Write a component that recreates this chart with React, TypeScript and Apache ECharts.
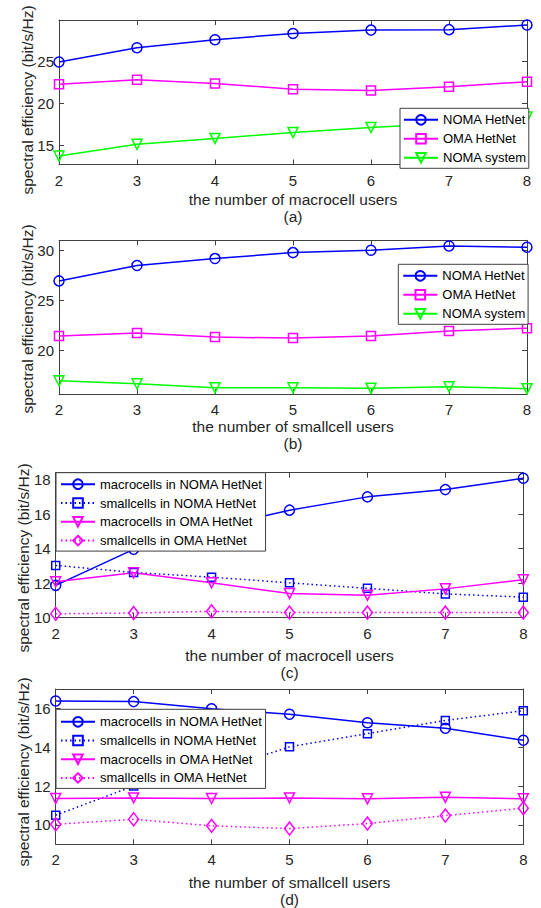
import React, { useEffect, useRef } from "react";
import * as echarts from "echarts";

// ---------- data ----------
const xUsers = [2, 3, 4, 5, 6, 7, 8];

// (a) vs number of macrocell users
const aNomaHetNet = [24.9, 26.6, 27.55, 28.3, 28.7, 28.75, 29.3];
const aOmaHetNet = [22.26, 22.8, 22.35, 21.67, 21.5, 21.95, 22.55];
const aNomaSystem = [13.7, 15.1, 15.8, 16.5, 17.1, 17.6, 18.35];

// (b) vs number of smallcell users
const bNomaHetNet = [26.93, 28.47, 29.17, 29.77, 30.0, 30.43, 30.3];
const bOmaHetNet = [21.4, 21.7, 21.3, 21.2, 21.4, 21.9, 22.2];
const bNomaSystem = [16.93, 16.63, 16.23, 16.23, 16.17, 16.33, 16.13];

// (c) vs number of macrocell users
const cMacroNoma = [11.87, 13.96, 15.2, 16.23, 17.0, 17.42, 18.08];
const cSmallNoma = [13.03, 12.62, 12.35, 12.02, 11.7, 11.38, 11.19];
const cMacroOma = [12.08, 12.6, 12.02, 11.4, 11.3, 11.67, 12.2];
const cSmallOma = [10.23, 10.27, 10.37, 10.3, 10.3, 10.3, 10.3];

// (d) vs number of smallcell users
const dMacroNoma = [16.38, 16.35, 15.98, 15.7, 15.26, 14.98, 14.36];
const dSmallNoma = [10.5, 12.0, 12.7, 14.02, 14.7, 15.38, 15.88];
const dMacroOma = [11.36, 11.39, 11.36, 11.39, 11.34, 11.42, 11.35];
const dSmallOma = [10.03, 10.29, 9.95, 9.81, 10.07, 10.48, 10.86];

// tick labels
const xTicks = [2, 3, 4, 5, 6, 7, 8];
const aYTicks = [15, 20, 25];
const bYTicks = [20, 25, 30];
const cYTicks = [10, 12, 14, 16, 18];
const dYTicks = [10, 12, 14, 16];

const namesAB = ["NOMA HetNet", "OMA HetNet", "NOMA system"];
const namesCD = [
  "macrocells in NOMA HetNet",
  "smallcells in NOMA HetNet",
  "macrocells in OMA HetNet",
  "smallcells in OMA HetNet",
];
const yTitle = "spectral efficiency (bit/s/Hz)";
const xTitleMacro = "the number of macrocell users";
const xTitleSmall = "the number of smallcell users";
const captions = ["(a)", "(b)", "(c)", "(d)"];

// ---------- styling ----------
const FONT = "'Liberation Sans', Arial, Helvetica, sans-serif";
const AX = "#404040";
const TXT = "#262626";
const BLUE = "#0000ff";
const MAG = "#ff00ff";
const GREEN = "#00ff00";

type SDef = {
  name: string;
  data: number[];
  color: string;
  symbol: string;
  size: number | number[];
  rotate?: number;
  dotted?: boolean;
};

type Panel = {
  grid: { left: number; right: number; top: number; height: number };
  yMin: number;
  yMax: number;
  yTicks: number[];
  legend: { left: number; top: number; padding: number[]; itemGap: number };
  legendNames: string[];
  series: SDef[];
  yTitle: { x: number; y: number };
  xTitle: { text: string; y: number };
  caption: { y: number };
};

const panels: Panel[] = [
  {
    grid: { left: 59, right: 14, top: 20, height: 144.5 },
    yMin: 12.7,
    yMax: 29.9,
    yTicks: aYTicks,
    legend: { left: 400, top: 108.3, padding: [5, 2, 4, 3], itemGap: 6 },
    legendNames: namesAB,
    series: [
      { name: namesAB[0], data: aNomaHetNet, color: BLUE, symbol: "circle", size: 10 },
      { name: namesAB[1], data: aOmaHetNet, color: MAG, symbol: "rect", size: 9 },
      { name: namesAB[2], data: aNomaSystem, color: GREEN, symbol: "triangle", size: 10, rotate: 180 },
    ],
    yTitle: { x: 27.5, y: 100 },
    xTitle: { text: xTitleMacro, y: 199 },
    caption: { y: 216.5 },
  },
  {
    grid: { left: 59, right: 14, top: 240.3, height: 153.7 },
    yMin: 15.6,
    yMax: 31,
    yTicks: bYTicks,
    legend: { left: 398.3, top: 264.3, padding: [5, 2, 4, 4], itemGap: 6 },
    legendNames: namesAB,
    series: [
      { name: namesAB[0], data: bNomaHetNet, color: BLUE, symbol: "circle", size: 10 },
      { name: namesAB[1], data: bOmaHetNet, color: MAG, symbol: "rect", size: 9 },
      { name: namesAB[2], data: bNomaSystem, color: GREEN, symbol: "triangle", size: 10, rotate: 180 },
    ],
    yTitle: { x: 27.5, y: 319 },
    xTitle: { text: xTitleSmall, y: 426.7 },
    caption: { y: 443 },
  },
  {
    grid: { left: 55.7, right: 17.7, top: 472.7, height: 145 },
    yMin: 10,
    yMax: 18.4,
    yTicks: cYTicks,
    legend: { left: 56, top: 472.7, padding: [5, 3, 4, 4], itemGap: 5.8 },
    legendNames: namesCD,
    series: [
      { name: namesCD[0], data: cMacroNoma, color: BLUE, symbol: "circle", size: 10 },
      { name: namesCD[1], data: cSmallNoma, color: BLUE, symbol: "rect", size: 8, dotted: true },
      { name: namesCD[2], data: cMacroOma, color: MAG, symbol: "triangle", size: 10, rotate: 180 },
      { name: namesCD[3], data: cSmallOma, color: MAG, symbol: "diamond", size: [10, 13], dotted: true },
    ],
    yTitle: { x: 23, y: 558 },
    xTitle: { text: xTitleMacro, y: 655 },
    caption: { y: 672 },
  },
  {
    grid: { left: 55.7, right: 17.7, top: 689, height: 155.3 },
    yMin: 9,
    yMax: 17,
    yTicks: dYTicks,
    legend: { left: 56, top: 709.3, padding: [6, 3, 4, 4], itemGap: 5.7 },
    legendNames: namesCD,
    series: [
      { name: namesCD[0], data: dMacroNoma, color: BLUE, symbol: "circle", size: 10 },
      { name: namesCD[1], data: dSmallNoma, color: BLUE, symbol: "rect", size: 8, dotted: true },
      { name: namesCD[2], data: dMacroOma, color: MAG, symbol: "triangle", size: 10, rotate: 180 },
      { name: namesCD[3], data: dSmallOma, color: MAG, symbol: "diamond", size: [10, 13], dotted: true },
    ],
    yTitle: { x: 23, y: 772 },
    xTitle: { text: xTitleSmall, y: 882.3 },
    caption: { y: 899.3 },
  },
];

function buildOption() {
  const grids: any[] = [];
  const xAxes: any[] = [];
  const yAxes: any[] = [];
  const series: any[] = [];
  const legends: any[] = [];
  const graphics: any[] = [];

  panels.forEach((p, i) => {
    grids.push({ ...p.grid, containLabel: false });
    const tick = { show: true, inside: true, length: 5, lineStyle: { color: AX, width: 1 } };
    const line = { show: true, onZero: false, lineStyle: { color: AX, width: 1 } };
    xAxes.push({
      type: "value",
      gridIndex: i,
      position: "bottom",
      min: 2,
      max: 8,
      interval: 1,
      axisLine: line,
      axisTick: { ...tick, customValues: xTicks },
      axisLabel: {
        customValues: xTicks,
        color: TXT,
        fontSize: 15,
        fontFamily: FONT,
        margin: 8,
      },
      splitLine: { show: false },
    });
    xAxes.push({
      type: "value",
      gridIndex: i,
      position: "top",
      min: 2,
      max: 8,
      interval: 1,
      axisLine: line,
      axisTick: { ...tick, customValues: xTicks },
      axisLabel: { show: false },
      splitLine: { show: false },
    });
    yAxes.push({
      type: "value",
      gridIndex: i,
      position: "left",
      min: p.yMin,
      max: p.yMax,
      axisLine: line,
      axisTick: { ...tick, customValues: p.yTicks },
      axisLabel: {
        customValues: p.yTicks,
        color: TXT,
        fontSize: 15,
        fontFamily: FONT,
        margin: 5,
        showMinLabel: true,
        showMaxLabel: true,
      },
      splitLine: { show: false },
    });
    yAxes.push({
      type: "value",
      gridIndex: i,
      position: "right",
      min: p.yMin,
      max: p.yMax,
      axisLine: line,
      axisTick: { ...tick, customValues: p.yTicks },
      axisLabel: { show: false },
      splitLine: { show: false },
    });

    p.series.forEach((s) => {
      series.push({
        type: "line",
        name: s.name,
        xAxisIndex: 2 * i,
        yAxisIndex: 2 * i,
        data: xUsers.map((x, k) => [x, s.data[k]]),
        symbol: s.symbol,
        symbolSize: s.size,
        symbolRotate: s.rotate || 0,
        showAllSymbol: true,
        clip: false,
        silent: true,
        z: 3,
        lineStyle: { color: s.color, width: 1.5, type: s.dotted ? [1.5, 3] : "solid" },
        itemStyle: { color: "rgba(255,255,255,0)", borderColor: s.color, borderWidth: 1.5 },
        emphasis: { disabled: true },
      });
    });

    legends.push({
      data: p.legendNames,
      orient: "vertical",
      left: p.legend.left,
      top: p.legend.top,
      padding: p.legend.padding,
      itemGap: p.legend.itemGap,
      itemWidth: 34,
      itemHeight: 12,
      backgroundColor: "#ffffff",
      borderColor: AX,
      borderWidth: 1,
      borderRadius: 0,
      selectedMode: false,
      z: 10,
      textStyle: { color: "#000", fontSize: 13, fontFamily: FONT },
    });

    graphics.push({
      type: "text",
      x: p.yTitle.x,
      y: p.yTitle.y,
      rotation: Math.PI / 2,
      style: {
        text: yTitle,
        fill: TXT,
        font: `15.5px ${FONT}`,
        align: "center",
        verticalAlign: "middle",
      },
    });
    const cx = p.grid.left + (541 - p.grid.left - p.grid.right) / 2;
    graphics.push({
      type: "text",
      x: cx,
      y: p.xTitle.y,
      style: {
        text: p.xTitle.text,
        fill: TXT,
        font: `15.5px ${FONT}`,
        align: "center",
        verticalAlign: "middle",
      },
    });
    graphics.push({
      type: "text",
      x: cx,
      y: p.caption.y,
      style: {
        text: captions[i],
        fill: TXT,
        font: `15.5px ${FONT}`,
        align: "center",
        verticalAlign: "middle",
      },
    });
  });

  return {
    animation: false,
    backgroundColor: "#ffffff",
    grid: grids,
    xAxis: xAxes,
    yAxis: yAxes,
    series,
    legend: legends,
    graphic: graphics,
  };
}

export default function App() {
  const ref = useRef<HTMLDivElement>(null);
  useEffect(() => {
    if (!ref.current) return;
    const chart = echarts.init(ref.current, undefined, { renderer: "svg" });
    chart.setOption(buildOption() as any);
    return () => chart.dispose();
  }, []);
  return (
    <div
      ref={ref}
      style={{ position: "absolute", left: 0, top: 0, width: 541, height: 908, background: "#fff" }}
    />
  );
}
